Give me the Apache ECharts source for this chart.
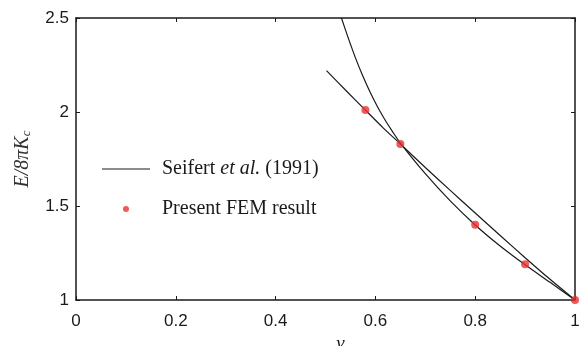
<!DOCTYPE html>
<html>
<head>
<meta charset="utf-8">
<script src="https://cdn.jsdelivr.net/npm/echarts@6/dist/echarts.min.js"></script>
<style>
html,body{margin:0;padding:0;background:#fff;}
#chart{width:581px;height:346px;}
</style>
</head>
<body>
<div id="chart"></div>
<script>
// Seifert et al. (1991) — steep branch
const branchAx = [0.532, 0.545, 0.56, 0.575, 0.59, 0.605, 0.62, 0.635, 0.65, 0.70, 0.75, 0.80, 0.85, 0.90, 0.95, 1.0];
const branchAy = [2.5, 2.398, 2.288, 2.19, 2.102, 2.024, 1.955, 1.893, 1.835, 1.672, 1.527, 1.399, 1.287, 1.187, 1.094, 1.0];
// Seifert et al. (1991) — flatter branch
const branchBx = [0.502, 0.54, 0.58, 0.615, 0.65, 0.70, 0.75, 0.80, 0.85, 0.90, 0.95, 1.0];
const branchBy = [2.22, 2.117, 2.01, 1.917, 1.83, 1.705, 1.583, 1.463, 1.343, 1.225, 1.11, 1.0];
// Present FEM result
const femX = [0.58, 0.65, 0.80, 0.90, 1.0];
const femY = [2.01, 1.83, 1.40, 1.19, 1.0];

const xTicks = {min: 0, max: 1, interval: 0.2};
const yTicks = {min: 1, max: 2.5, interval: 0.5};

const zip = (a, b) => a.map((v, i) => [v, b[i]]);
const ink = '#1a1a1a';
const red = '#e8312f';
const serif = '"Liberation Serif", "DejaVu Serif", serif';
const sans = '"Liberation Sans", Arial, sans-serif';

const axisCommon = {
  type: 'value',
  splitLine: {show: false},
  axisLine: {show: true, onZero: false, lineStyle: {color: ink, width: 1.5}},
  axisTick: {show: true, inside: true, length: 4, lineStyle: {color: ink, width: 1}},
};

const chart = echarts.init(document.getElementById('chart'), null, {renderer: 'canvas'});
chart.setOption({
  animation: false,
  backgroundColor: '#fff',
  grid: {left: 76, right: 6, top: 18, bottom: 46, containLabel: false, outerBoundsMode: 'none'},
  xAxis: [
    Object.assign({}, axisCommon, {
      position: 'bottom', min: xTicks.min, max: xTicks.max, interval: xTicks.interval,
      axisLabel: {show: true, color: ink, fontFamily: sans, fontSize: 17, margin: 13,
        formatter: v => String(+v.toFixed(1))},
      name: 'ν', nameLocation: 'middle', nameGap: 33,
      nameTextStyle: {fontFamily: serif, fontStyle: 'italic', fontSize: 19, color: ink, padding: [0, 0, 0, 30]}
    }),
    Object.assign({}, axisCommon, {
      position: 'top', min: xTicks.min, max: xTicks.max, interval: xTicks.interval,
      axisLabel: {show: false}
    })
  ],
  yAxis: [
    Object.assign({}, axisCommon, {
      position: 'left', min: yTicks.min, max: yTicks.max, interval: yTicks.interval,
      axisLabel: {show: true, color: ink, fontFamily: sans, fontSize: 17, margin: 7},
      name: '{i|E/8πK}{s|c}', nameLocation: 'middle', nameGap: 43,
      nameTextStyle: {
        color: '#333',
        rich: {
          i: {fontFamily: serif, fontStyle: 'italic', fontSize: 20, color: '#333'},
          s: {fontFamily: serif, fontStyle: 'italic', fontSize: 13, color: '#333', verticalAlign: 'bottom', padding: [8, 0, 0, 0]}
        }
      }
    }),
    Object.assign({}, axisCommon, {
      position: 'right', min: yTicks.min, max: yTicks.max, interval: yTicks.interval,
      axisLabel: {show: false}
    })
  ],
  legend: {
    orient: 'vertical', left: 102, top: 159, padding: 0,
    itemWidth: 48, itemHeight: 6, itemGap: 20,
    data: [
      {name: 'Seifert et al. (1991)', icon: 'path://M0,0L48,0L48,1.2L0,1.2Z', itemStyle: {color: ink}},
      {name: 'Present FEM result', icon: 'circle', itemStyle: {color: red}}
    ],
    formatter: name => name === 'Seifert et al. (1991)'
      ? '{n|Seifert }{it|et al.}{n| (1991)}' : '{n|' + name + '}',
    textStyle: {
      padding: [0, 0, 0, 7],
      rich: {
        n: {fontFamily: serif, fontSize: 20, color: ink},
        it: {fontFamily: serif, fontStyle: 'italic', fontSize: 20, color: ink}
      }
    }
  },
  series: [
    {name: 'Seifert et al. (1991)', type: 'line', data: zip(branchAx, branchAy), smooth: 0.25,
      symbol: 'none', lineStyle: {color: ink, width: 1.2}, itemStyle: {color: ink}, clip: true, z: 2},
    {name: 'Seifert et al. (1991)', type: 'line', data: zip(branchBx, branchBy), smooth: 0.25,
      symbol: 'none', lineStyle: {color: ink, width: 1.2}, itemStyle: {color: ink}, clip: true, z: 2},
    {name: 'Present FEM result', type: 'scatter', data: zip(femX, femY), symbol: 'circle',
      symbolSize: 8, itemStyle: {color: red}, clip: false, z: 3}
  ]
});
</script>
</body>
</html>
